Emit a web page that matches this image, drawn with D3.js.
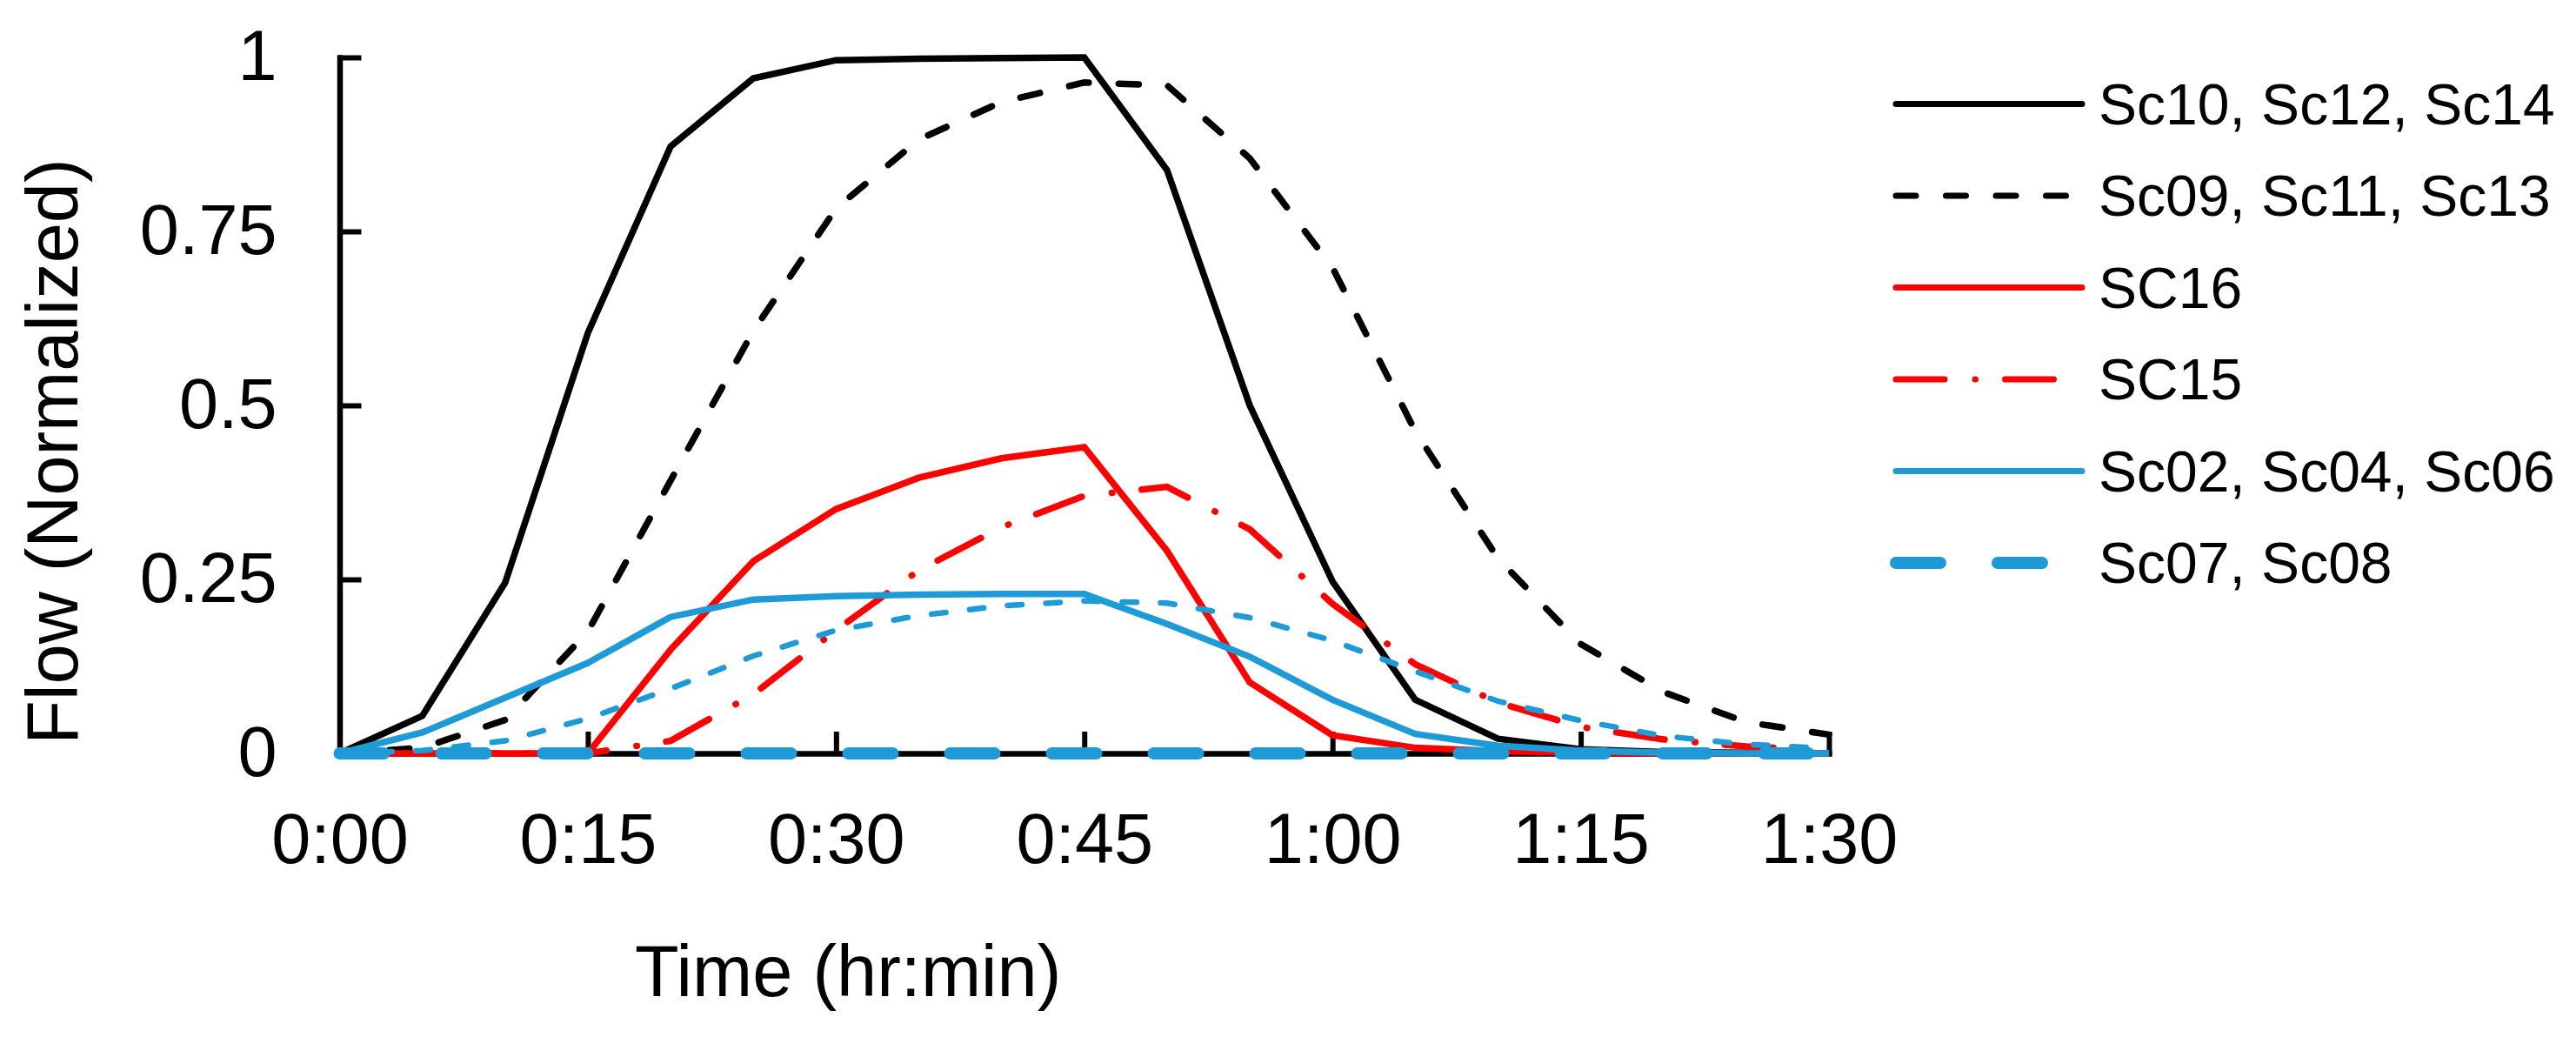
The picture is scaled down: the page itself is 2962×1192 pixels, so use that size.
<!DOCTYPE html>
<html lang="en">

<head>
    <meta charset="UTF-8">
    <script src="https://d3js.org/d3.v7.min.js"></script>
    <title>Flow</title>
    <style>
        body { margin: 0; background: #fff; }
        text { font-family: "Liberation Sans", Arial, sans-serif; fill: #000; }
    </style>
</head>

<body>
    <div id="chart"></div>
    <script>
        // time in minutes
        const minutes = [0, 5, 10, 15, 20, 25, 30, 35, 40, 45, 50, 55, 60, 65, 70, 75, 80, 85, 90];

        const sc10 = [0, 0.054, 0.245, 0.604, 0.872, 0.97, 0.996, 0.998, 0.999, 1.0, 0.838, 0.50, 0.247, 0.077, 0.021, 0.006, 0.002, 0.001, 0];
        const sc09 = [0, 0.008, 0.048, 0.175, 0.392, 0.607, 0.783, 0.882, 0.936, 0.964, 0.96, 0.855, 0.698, 0.463, 0.28, 0.157, 0.088, 0.045, 0.027];
        const sc16 = [0, 0, 0, 0, 0.149, 0.276, 0.351, 0.396, 0.424, 0.44, 0.291, 0.102, 0.026, 0.008, 0.003, 0.001, 0, 0, 0];
        const sc15 = [0, 0, 0, 0, 0.018, 0.085, 0.177, 0.263, 0.325, 0.37, 0.383, 0.322, 0.215, 0.128, 0.073, 0.038, 0.02, 0.01, 0.004];
        const sc02 = [0, 0.03, 0.08, 0.13, 0.196, 0.221, 0.226, 0.228, 0.229, 0.229, 0.186, 0.139, 0.077, 0.028, 0.011, 0.004, 0.001, 0, 0];
        const sc01 = [0, 0.004, 0.018, 0.05, 0.093, 0.14, 0.177, 0.198, 0.212, 0.219, 0.216, 0.195, 0.162, 0.118, 0.075, 0.047, 0.025, 0.013, 0.007];
        const sc07 = [0, 0, 0, 0, 0, 0, 0, 0, 0, 0, 0, 0, 0, 0, 0, 0, 0, 0, 0];

        const legendNames = ["Sc10, Sc12, Sc14", "Sc09, Sc11, Sc13", "SC16", "SC15", "Sc02, Sc04, Sc06", "Sc07, Sc08"];

        const xTicks = [0, 15, 30, 45, 60, 75, 90];
        const xTickLabels = ["0:00", "0:15", "0:30", "0:45", "1:00", "1:15", "1:30"];
        const yTicks = [0, 0.25, 0.5, 0.75, 1];
        const yTickLabels = ["0", "0.25", "0.5", "0.75", "1"];

        const width = 2962;
        const height = 1192;
        const blue = "#1e9bd7";

        // series, in drawing order (sc01 has no legend entry)
        const series = [
            { values: sc10, legend: 0, color: "#000", w: 7.5, dash: null },
            { values: sc09, legend: 1, color: "#000", w: 7.5, dash: "23,34.5" },
            { values: sc16, legend: 2, color: "#ff0000", w: 7.5, dash: null },
            { values: sc15, legend: 3, color: "#ff0000", w: 7.5, dash: "56,35,0.5,34" },
            { values: sc02, legend: 4, color: blue, w: 7.5, dash: null },
            { values: sc01, legend: -1, color: blue, w: 6.5, dash: "16.5,27.5" },
            { values: sc07, legend: 5, color: blue, w: 14, dash: "51,66" }
        ];

        var svg = d3.select("#chart")
            .append("svg")
            .attr("width", width)
            .attr("height", height);

        const xScale = d3.scaleLinear()
            .domain([0, 90])
            .range([390.5, 2103]);
        const yScale = d3.scaleLinear()
            .domain([0, 1])
            .range([866, 66]);

        // axes, ticks pointing inside the plot
        const xAxis = d3.axisBottom(xScale)
            .tickValues(xTicks)
            .tickFormat((d, i) => xTickLabels[i])
            .tickSizeInner(-25)
            .tickSizeOuter(0)
            .tickPadding(68);
        const yAxis = d3.axisLeft(yScale)
            .tickValues(yTicks)
            .tickFormat((d, i) => yTickLabels[i])
            .tickSizeInner(-25)
            .tickSizeOuter(0)
            .tickPadding(72);

        const gx = svg.append("g")
            .attr("transform", `translate(0, ${yScale(0)})`)
            .call(xAxis);
        const gy = svg.append("g")
            .attr("transform", `translate(${xScale(0)}, 0)`)
            .call(yAxis);

        [gx, gy].forEach(g => {
            g.select(".domain").attr("stroke", "#000").attr("stroke-width", 6.5).attr("stroke-linecap", "square");
            g.selectAll(".tick line").attr("stroke", "#000").attr("stroke-width", 6);
            g.selectAll(".tick text")
                .attr("font-family", "Liberation Sans, Arial, sans-serif")
                .attr("font-size", 81)
                .attr("fill", "#000");
        });

        const line = d3.line()
            .x((d, i) => xScale(minutes[i]))
            .y(d => yScale(d));

        series.forEach(s => {
            svg.append("path")
                .datum(s.values)
                .attr("fill", "none")
                .attr("stroke", s.color)
                .attr("stroke-width", s.w)
                .attr("stroke-linecap", s.dash ? "round" : "butt")
                .attr("stroke-linejoin", "miter")
                .attr("stroke-dasharray", s.dash)
                .attr("d", line);
        });

        // axis titles
        svg.append("text")
            .attr("x", 730)
            .attr("y", 1145)
            .attr("font-size", 83)
            .text("Time (hr:min)");

        svg.append("text")
            .attr("transform", "translate(89, 519) rotate(-90)")
            .attr("text-anchor", "middle")
            .attr("font-size", 83)
            .text("Flow (Normalized)");

        // legend
        const legendY = d3.scaleLinear().domain([0, 5]).range([119.5, 647]);
        const legend = svg.append("g");
        series.filter(s => s.legend >= 0).forEach(s => {
            const y = legendY(s.legend);
            legend.append("line")
                .attr("x1", 2180)
                .attr("x2", 2394)
                .attr("y1", y)
                .attr("y2", y)
                .attr("stroke", s.color)
                .attr("stroke-width", s.legend === 5 ? 14 : 7)
                .attr("stroke-linecap", "round")
                .attr("stroke-dasharray", s.dash);
            legend.append("text")
                .attr("x", 2413)
                .attr("y", y)
                .attr("dy", "0.35em")
                .attr("font-size", 66)
                .text(legendNames[s.legend]);
        });
    </script>
</body>

</html>
